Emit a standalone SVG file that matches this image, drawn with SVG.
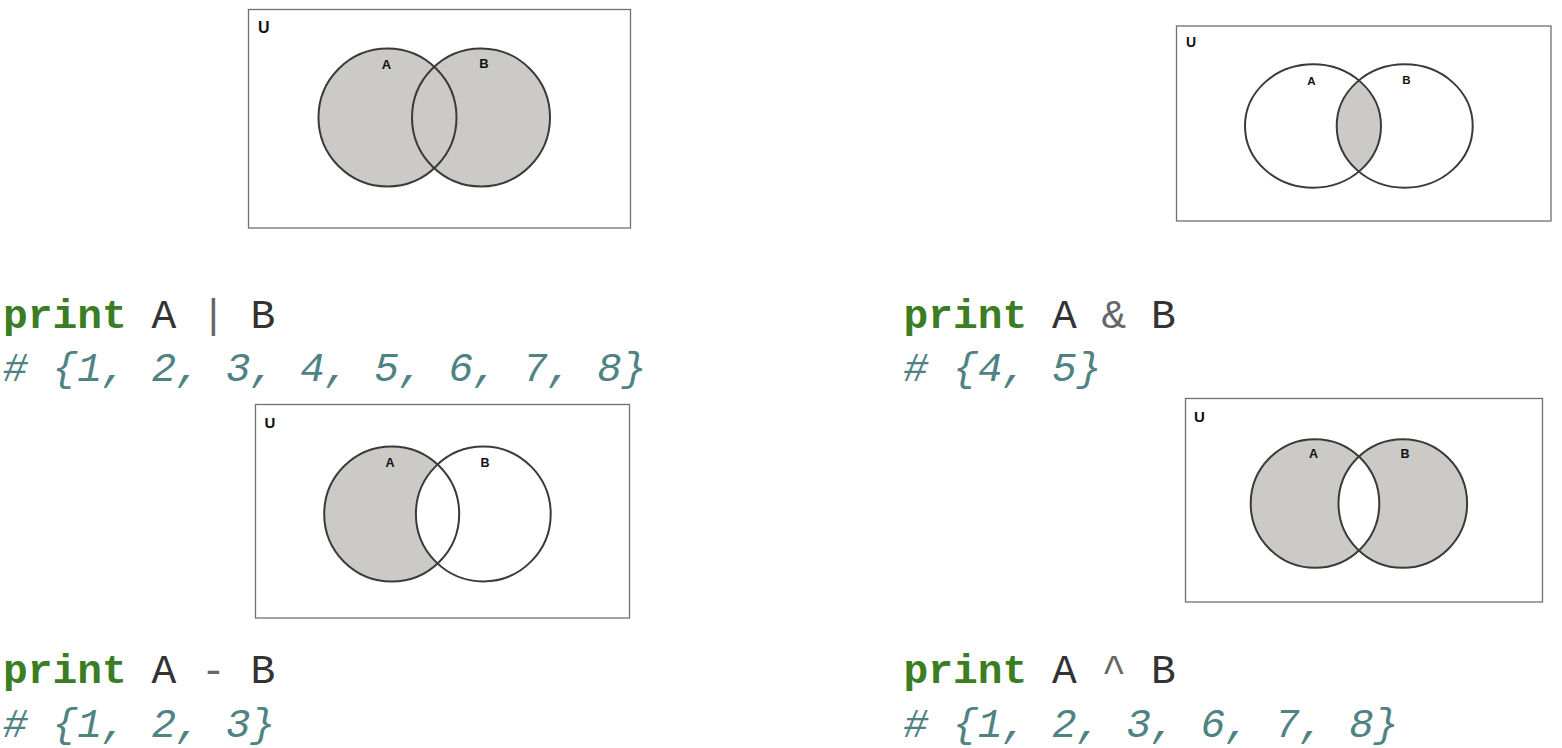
<svg xmlns="http://www.w3.org/2000/svg" width="1562" height="748" viewBox="0 0 1562 748">
<style>
.frame{fill:#fff;stroke:#707070;stroke-width:1.3}
.set{stroke:#3a3a3a;stroke-width:2;fill:none}
.shade{fill:#cbcac6;stroke:none}
.blank{fill:#fff;stroke:none}
.lbl{font-family:"Liberation Sans",Arial,sans-serif;font-weight:bold;fill:#111}
.code{font-family:"Liberation Mono","Courier New",monospace;font-size:41.25px;white-space:pre}
.kw{fill:#3b7d22;font-weight:bold}
.id{fill:#333}
.op{fill:#666}
.cm{fill:#4f8383;font-style:italic}
</style>
<defs>
<clipPath id="clipA2"><ellipse cx="1313" cy="126" rx="68" ry="61.7"/></clipPath>
<clipPath id="clipA4"><circle cx="1315" cy="503.5" r="64.3"/></clipPath>
</defs>
<rect width="1562" height="748" fill="#fff"/>

<g id="union">
<rect class="frame" x="248.5" y="9.5" width="382" height="218.5"/>
<circle class="shade" cx="387.5" cy="117.5" r="69"/>
<circle class="shade" cx="481" cy="117.5" r="69"/>
<circle class="set" cx="387.5" cy="117.5" r="69"/>
<circle class="set" cx="481" cy="117.5" r="69"/>
<text class="lbl" x="258" y="33" font-size="16">U</text>
<text class="lbl" x="386.5" y="69" font-size="13" text-anchor="middle">A</text>
<text class="lbl" x="484" y="68" font-size="13" text-anchor="middle">B</text>
</g>

<g id="intersection">
<rect class="frame" x="1176.5" y="26" width="374.5" height="195"/>
<ellipse class="shade" cx="1404.7" cy="126" rx="68" ry="61.7" clip-path="url(#clipA2)"/>
<ellipse class="set" cx="1313" cy="126" rx="68" ry="61.7"/>
<ellipse class="set" cx="1404.7" cy="126" rx="68" ry="61.7"/>
<text class="lbl" x="1186" y="47" font-size="14">U</text>
<text class="lbl" x="1311.5" y="85" font-size="11.5" text-anchor="middle">A</text>
<text class="lbl" x="1406.5" y="84" font-size="11.5" text-anchor="middle">B</text>
</g>

<g id="difference">
<rect class="frame" x="255.5" y="404.5" width="374" height="213.5"/>
<circle class="shade" cx="391.7" cy="514" r="67.5"/>
<circle class="blank" cx="483.3" cy="514" r="67.4"/>
<circle class="set" cx="391.7" cy="514" r="67.5"/>
<circle class="set" cx="483.3" cy="514" r="67.4"/>
<text class="lbl" x="264.5" y="427.5" font-size="15">U</text>
<text class="lbl" x="390" y="467" font-size="12.5" text-anchor="middle">A</text>
<text class="lbl" x="485" y="467" font-size="12.5" text-anchor="middle">B</text>
</g>

<g id="symmetric-difference">
<rect class="frame" x="1185.5" y="398.5" width="357" height="203.5"/>
<circle class="shade" cx="1315" cy="503.5" r="64.3"/>
<circle class="shade" cx="1402.8" cy="503.5" r="64.3"/>
<circle class="blank" cx="1402.8" cy="503.5" r="64.3" clip-path="url(#clipA4)"/>
<circle class="set" cx="1315" cy="503.5" r="64.3"/>
<circle class="set" cx="1402.8" cy="503.5" r="64.3"/>
<text class="lbl" x="1194" y="421.5" font-size="15">U</text>
<text class="lbl" x="1313.5" y="458" font-size="12.5" text-anchor="middle">A</text>
<text class="lbl" x="1405" y="458" font-size="12.5" text-anchor="middle">B</text>
</g>

<g id="code-union">
<text class="code" x="3" y="328"><tspan class="kw">print</tspan><tspan class="id"> A </tspan><tspan class="op">|</tspan><tspan class="id"> B</tspan></text>
<text class="code cm" x="3" y="381"># {1, 2, 3, 4, 5, 6, 7, 8}</text>
</g>
<g id="code-intersection">
<text class="code" x="903.4" y="328"><tspan class="kw">print</tspan><tspan class="id"> A </tspan><tspan class="op">&amp;</tspan><tspan class="id"> B</tspan></text>
<text class="code cm" x="903.4" y="381"># {4, 5}</text>
</g>
<g id="code-difference">
<text class="code" x="3" y="683"><tspan class="kw">print</tspan><tspan class="id"> A </tspan><tspan class="op">-</tspan><tspan class="id"> B</tspan></text>
<text class="code cm" x="3" y="737"># {1, 2, 3}</text>
</g>
<g id="code-symmetric-difference">
<text class="code" x="903.4" y="683"><tspan class="kw">print</tspan><tspan class="id"> A </tspan><tspan class="op">^</tspan><tspan class="id"> B</tspan></text>
<text class="code cm" x="903.4" y="737"># {1, 2, 3, 6, 7, 8}</text>
</g>
</svg>
